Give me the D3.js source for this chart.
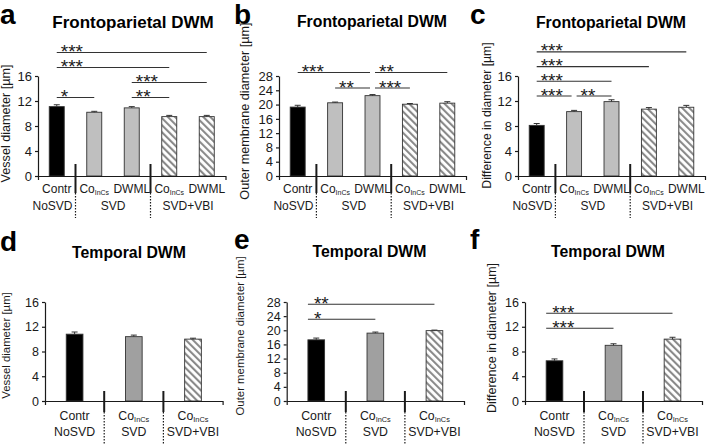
<!DOCTYPE html>
<html><head><meta charset="utf-8">
<script src="https://cdn.jsdelivr.net/npm/d3@7"></script>
<style>body{margin:0;background:#fff} text{font-family:Arial,"Liberation Sans",sans-serif}</style>
</head><body><svg id="c" width="709" height="447"></svg>
<script>
// ---------- data ----------
const topCategories = ["Contr","CoInCs","DWML","CoInCs","DWML"];
const topGroups = ["NoSVD","SVD","SVD","SVD+VBI","SVD+VBI"];
const topFills = ["black","gray","gray","hatch","hatch"];
const bottomCategories = ["Contr","CoInCs","CoInCs"];
const bottomGroups = ["NoSVD","SVD","SVD+VBI"];
const bottomFills = ["black","gray","hatch"];

const vesselFP = [11.1,10.2,10.9,9.5,9.5];
const vesselFPErr = [0.3,0.15,0.2,0.2,0.2];
const outerFP = [19.3,20.5,22.5,20.1,20.4];
const outerFPErr = [0.5,0.2,0.3,0.2,0.4];
const diffFP = [8.1,10.3,11.9,10.7,11.0];
const diffFPErr = [0.3,0.2,0.3,0.25,0.3];
const vesselT = [10.8,10.4,10.0];
const vesselTErr = [0.35,0.25,0.15];
const outerT = [17.3,19.2,19.9];
const outerTErr = [0.5,0.3,0.15];
const diffT = [6.5,9.0,10.0];
const diffTErr = [0.3,0.25,0.3];

const ticks16 = [0,4,8,12,16];
const ticks28 = [0,4,8,12,16,20,24,28];

// significance brackets: [fromIndex, toIndex, label, row]
const sigA = [[0,1,"*",0],[2,3,"**",0],[2,4,"***",1],[0,3,"***",2],[0,4,"***",3]];
const sigB = [[1,2,"**",0],[2,3,"***",0],[0,2,"***",1],[2,4,"**",1]];
const sigC = [[0,1,"***",0],[1,2,"**",0],[0,2,"***",1],[0,3,"***",2],[0,4,"***",3]];
const sigD = [];
const sigE = [[0,1,"*",0],[0,2,"**",1]];
const sigF = [[0,1,"***",0],[0,2,"***",1]];

// ---------- layout ----------
const topRow = {cats:topCategories, groups:topGroups, fills:topFills, pad:0.6, gray:"#bfbfbf",
  tickFont:13, labFont:12, subRatio:0.58, lab1:17, lab2:34, sepUp:12, sepSolid:17, sepEnd:42, sigStart:0, sigText:4};
const botRow = {cats:bottomCategories, groups:bottomGroups, fills:bottomFills, pad:0.718, gray:"#a0a0a0",
  tickFont:12.5, labFont:12.3, subRatio:0.6, lab1:19, lab2:35, sepUp:10, sepSolid:11, sepEnd:44, sigStart:-0.5, sigText:6};

const panels = [
 Object.assign({}, topRow, {letter:"a", lx:0, ly:24, title:"Frontoparietal DWM", tx:133, ty:28, tsize:17,
  ylabel:"Vessel diameter [µm]", ylx:10, yly:123.5, ylsize:12.6,
  left:38, right:225.5, top:76, bottom:176, ticks:ticks16, values:vesselFP, errs:vesselFPErr, sig:sigA, sigBase:97.5, sigGap:15}),
 Object.assign({}, topRow, {letter:"b", lx:234, ly:24, title:"Frontoparietal DWM", tx:372, ty:27, tsize:15.8,
  ylabel:"Outer membrane diameter [µm]", ylx:249, yly:111, ylsize:12.7,
  left:279, right:466, top:76, bottom:176, ticks:ticks28, values:outerFP, errs:outerFPErr, sig:sigB, sigBase:88, sigGap:15.5}),
 Object.assign({}, topRow, {letter:"c", lx:470, ly:24, title:"Frontoparietal DWM", tx:611, ty:28, tsize:15.8,
  ylabel:"Difference in diameter [µm]", ylx:491, yly:115.5, ylsize:12.2,
  left:518, right:705, top:76, bottom:176, ticks:ticks16, values:diffFP, errs:diffFPErr, sig:sigC, sigBase:96, sigGap:14.7}),
 Object.assign({}, botRow, {letter:"d", lx:0, ly:251, title:"Temporal DWM", tx:129, ty:258, tsize:15.8,
  ylabel:"Vessel diameter [µm]", ylx:10, yly:345.5, ylsize:11.4,
  left:45, right:222.6, top:302, bottom:401, ticks:ticks16, values:vesselT, errs:vesselTErr, sig:sigD, sigBase:0, sigGap:15}),
 Object.assign({}, botRow, {letter:"e", lx:234, ly:249, title:"Temporal DWM", tx:369.5, ty:257, tsize:15.8,
  ylabel:"Outer membrane diameter [µm]", ylx:244, yly:336, ylsize:11.4,
  left:286.7, right:464, top:302, bottom:401, ticks:ticks28, values:outerT, errs:outerTErr, sig:sigE, sigBase:319.3, sigGap:15}),
 Object.assign({}, botRow, {letter:"f", lx:470, ly:249, title:"Temporal DWM", tx:608, ty:257, tsize:15.8,
  ylabel:"Difference in diameter [µm]", ylx:496, yly:338, ylsize:12.5,
  left:525, right:702, top:302, bottom:401, ticks:ticks16, values:diffT, errs:diffTErr, sig:sigF, sigBase:328.3, sigGap:15})
];

const svg = d3.select("#c");
const defs = svg.append("defs");
const pat = defs.append("pattern").attr("id","hatch").attr("patternUnits","userSpaceOnUse")
  .attr("width",5).attr("height",5).attr("patternTransform","rotate(-45)");
pat.append("rect").attr("width",5).attr("height",5).attr("fill","#fff");
pat.append("rect").attr("x",0).attr("width",2.1).attr("height",5).attr("fill","#8a8a8a");

const ink = "#1a1a1a";

panels.forEach(p => {
  const g = svg.append("g");
  const n = p.values.length;
  const x = d3.scaleBand().domain(d3.range(n)).range([p.left, p.right])
    .paddingInner(p.pad).paddingOuter(p.pad/2);
  const y = d3.scaleLinear().domain([0, d3.max(p.ticks)]).range([p.bottom, p.top]);
  const cx = i => x(i) + x.bandwidth()/2;

  // letter + title
  g.append("text").attr("x",p.lx).attr("y",p.ly).attr("font-size",28).attr("font-weight","bold")
    .attr("fill","#000").text(p.letter);
  g.append("text").attr("x",p.tx).attr("y",p.ty).attr("text-anchor","middle").attr("font-size",p.tsize)
    .attr("font-weight","bold").attr("fill","#000").text(p.title);

  // y label
  g.append("text").attr("transform",`translate(${p.ylx},${p.yly}) rotate(-90)`).attr("text-anchor","middle")
    .attr("font-size",p.ylsize).attr("fill",ink).text(p.ylabel);

  // bars
  const fillOf = f => f==="black" ? "#000" : f==="gray" ? p.gray : "url(#hatch)";
  g.selectAll("rect.bar").data(p.values).join("rect").attr("class","bar")
    .attr("x",(d,i)=>x(i)).attr("width",x.bandwidth())
    .attr("y",d=>y(d)).attr("height",d=>y(0)-y(d))
    .attr("fill",(d,i)=>fillOf(p.fills[i])).attr("stroke","#333").attr("stroke-width",0.9);

  // error bars (upper)
  p.values.forEach((v,i)=>{
    const e = p.errs[i];
    g.append("line").attr("x1",cx(i)).attr("x2",cx(i)).attr("y1",y(v)).attr("y2",y(v+e))
      .attr("stroke","#333").attr("stroke-width",1);
    g.append("line").attr("x1",cx(i)-3).attr("x2",cx(i)+3).attr("y1",y(v+e)).attr("y2",y(v+e))
      .attr("stroke","#333").attr("stroke-width",1);
  });

  // y axis
  const ya = g.append("g").attr("transform",`translate(${p.left},0)`)
    .call(d3.axisLeft(y).tickValues(p.ticks).tickSize(3).tickSizeOuter(0).tickPadding(3));
  ya.selectAll("path,line").attr("stroke",ink).attr("stroke-width",1.2);
  ya.selectAll("text").attr("font-size",p.tickFont).attr("fill",ink).attr("font-family",'Arial,"Liberation Sans",sans-serif');

  // x axis
  const xa = g.append("g").attr("transform",`translate(0,${p.bottom})`)
    .call(d3.axisBottom(x).tickSize(0).tickSizeOuter(4).tickFormat(""));
  xa.selectAll("path").attr("stroke",ink).attr("stroke-width",1.2);

  // group separators
  const seps = d3.range(1,n).filter(i=>p.groups[i]!==p.groups[i-1]).map(i=>x(i) - x.step()*p.pad/2);
  seps.forEach(bx=>{
    g.append("line").attr("x1",bx).attr("x2",bx).attr("y1",p.bottom-p.sepUp).attr("y2",p.bottom+p.sepSolid)
      .attr("stroke",ink).attr("stroke-width",2);
    g.append("line").attr("x1",bx).attr("x2",bx).attr("y1",p.bottom+p.sepSolid).attr("y2",p.bottom+p.sepEnd)
      .attr("stroke",ink).attr("stroke-width",1.2).attr("stroke-dasharray","1.5,1.5");
  });

  // keep a centred label clear of the separators
  const fit = (t, cxv) => {
    const w = t.node().getComputedTextLength();
    let c = cxv;
    seps.forEach(s=>{
      if (s > cxv && c + w/2 > s - 3) c = s - 3 - w/2;
      if (s < cxv && c - w/2 < s + 3) c = s + 3 + w/2;
    });
    t.attr("x", c);
  };

  // x labels (row 1)
  p.cats.forEach((c,i)=>{
    const t = g.append("text").attr("x",cx(i)).attr("y",p.bottom+p.lab1).attr("text-anchor","middle")
      .attr("font-size",p.labFont).attr("fill",ink);
    if (c==="CoInCs") {
      t.append("tspan").text("Co");
      t.append("tspan").attr("font-size",p.labFont*p.subRatio).attr("dy",1.5).text("InCs");
    } else t.text(c);
  });
  // group labels (row 2)
  const grpNames = Array.from(new Set(p.groups));
  grpNames.forEach(gn=>{
    const idx = d3.range(n).filter(i=>p.groups[i]===gn);
    const mx = d3.mean(idx, cx);
    const t = g.append("text").attr("x",mx).attr("y",p.bottom+p.lab2).attr("text-anchor","middle")
      .attr("font-size",p.labFont).attr("fill",ink).text(gn);
    fit(t, mx);
  });

  // significance
  p.sig.forEach(s=>{
    const [a,b,lab,row] = s;
    const ly = p.sigBase - row*p.sigGap;
    const sharedStart = p.sig.some(o=>o!==s && o[3]===row && o[1]===a);
    const sharedEnd = p.sig.some(o=>o!==s && o[3]===row && o[0]===b);
    const x1 = cx(a) + p.sigStart*x.bandwidth() + (sharedStart?2.5:0);
    const x2 = cx(b) - (sharedEnd?2.5:0);
    g.append("line").attr("x1",x1).attr("x2",x2).attr("y1",ly).attr("y2",ly)
      .attr("stroke","#333").attr("stroke-width",1.1);
    g.append("text").attr("x",x1+p.sigText).attr("y",ly+5.5).attr("font-size",19).attr("fill",ink).text(lab);
  });
});
</script></body></html>
